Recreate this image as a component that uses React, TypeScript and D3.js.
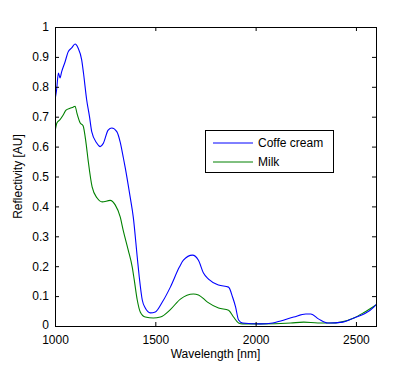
import React, { useEffect, useRef } from 'react';
import * as d3 from 'd3';

// wavelength samples [nm] and reflectivity [AU]
const creamWavelength = [1000, 1008, 1017, 1025, 1033, 1050, 1065, 1083, 1100, 1115, 1133, 1142, 1158, 1172, 1183, 1208, 1225, 1240, 1265, 1283, 1308, 1325, 1340, 1350, 1375, 1390, 1410, 1420, 1435, 1450, 1475, 1500, 1535, 1575, 1620, 1640, 1685, 1715, 1740, 1765, 1815, 1865, 1885, 1900, 1915, 1935, 2025, 2085, 2125, 2190, 2250, 2275, 2315, 2360, 2435, 2490, 2540, 2590, 2600];
const creamValues = [0.756, 0.79, 0.846, 0.83, 0.85, 0.883, 0.916, 0.93, 0.943, 0.93, 0.89, 0.846, 0.756, 0.70, 0.65, 0.612, 0.60, 0.61, 0.655, 0.662, 0.65, 0.615, 0.565, 0.53, 0.43, 0.365, 0.23, 0.164, 0.087, 0.06, 0.044, 0.047, 0.08, 0.13, 0.197, 0.22, 0.237, 0.22, 0.177, 0.157, 0.137, 0.13, 0.097, 0.064, 0.02, 0.01, 0.007, 0.01, 0.017, 0.03, 0.04, 0.04, 0.023, 0.01, 0.013, 0.027, 0.04, 0.064, 0.072];

const milkWavelength = [1000, 1010, 1025, 1040, 1055, 1075, 1090, 1100, 1110, 1125, 1140, 1155, 1165, 1185, 1210, 1235, 1275, 1300, 1325, 1340, 1365, 1385, 1395, 1410, 1425, 1450, 1490, 1525, 1575, 1625, 1690, 1715, 1760, 1815, 1865, 1890, 1915, 1935, 2025, 2175, 2240, 2310, 2375, 2425, 2490, 2540, 2600];
const milkValues = [0.65, 0.68, 0.69, 0.705, 0.722, 0.728, 0.732, 0.735, 0.71, 0.68, 0.67, 0.61, 0.555, 0.465, 0.428, 0.415, 0.42, 0.405, 0.365, 0.32, 0.254, 0.197, 0.154, 0.087, 0.047, 0.03, 0.027, 0.03, 0.055, 0.09, 0.107, 0.104, 0.08, 0.06, 0.053, 0.03, 0.01, 0.007, 0.007, 0.01, 0.013, 0.01, 0.01, 0.013, 0.027, 0.045, 0.07];

const xTicks = [1000, 1500, 2000, 2500];
const yTicks = [0, 0.1, 0.2, 0.3, 0.4, 0.5, 0.6, 0.7, 0.8, 0.9, 1];
const seriesNames = ['Coffe cream', 'Milk'];
const seriesColors = ['#0000ff', '#008000'];

export default function App() {
  const ref = useRef<SVGSVGElement>(null);

  useEffect(() => {
    const svg = d3.select(ref.current);
    svg.selectAll('*').remove();

    const margin = { top: 27, right: 40, bottom: 40, left: 55 };
    const width = 416 - margin.left - margin.right;
    const height = 366 - margin.top - margin.bottom;
    const font = 'Liberation Sans, Arial, sans-serif';
    const fs = 12;

    const x = d3.scaleLinear().domain([1000, 2600]).range([0, width]);
    const y = d3.scaleLinear().domain([0, 1]).range([height, 0]);

    const g = svg.append('g')
      .attr('transform', 'translate(' + margin.left + ',' + margin.top + ')');

    const clip = svg.append('clipPath').attr('id', 'plotclip');
    clip.append('rect').attr('width', width).attr('height', height);

    const line = d3.line<[number, number]>()
      .curve(d3.curveMonotoneX)
      .x(d => x(d[0]))
      .y(d => y(d[1]));

    const series: [number, number][][] = [
      creamWavelength.map((w, i) => [w, creamValues[i]] as [number, number]),
      milkWavelength.map((w, i) => [w, milkValues[i]] as [number, number]),
    ];

    // draw milk first so cream sits on top where they overlap
    [1, 0].forEach(i => {
      g.append('path')
        .datum(series[i])
        .attr('clip-path', 'url(#plotclip)')
        .attr('fill', 'none')
        .attr('stroke', seriesColors[i])
        .attr('stroke-width', 1.1)
        .attr('d', line);
    });

    // axes, ticks inward like matlab
    const tl = 4;
    const bottom = g.append('g').attr('transform', 'translate(0,' + height + ')')
      .call(d3.axisBottom(x).tickValues(xTicks).tickSizeInner(-tl).tickSizeOuter(0).tickPadding(9).tickFormat(d3.format('d')));
    const top = g.append('g')
      .call(d3.axisTop(x).tickValues(xTicks).tickSizeInner(-tl).tickSizeOuter(0).tickFormat(() => ''));
    const left = g.append('g')
      .call(d3.axisLeft(y).tickValues(yTicks).tickSizeInner(-tl).tickSizeOuter(0).tickPadding(6).tickFormat(d3.format('')));
    const right = g.append('g').attr('transform', 'translate(' + width + ',0)')
      .call(d3.axisRight(y).tickValues(yTicks).tickSizeInner(-tl).tickSizeOuter(0).tickFormat(() => ''));

    [bottom, top, left, right].forEach(a => {
      a.select('.domain').remove();
      a.selectAll('line').attr('stroke', '#000');
      a.selectAll('text').attr('font-family', font).attr('font-size', fs).attr('fill', '#000');
    });
    // nudge the "0" label up a touch so it clears the "1000" below it
    left.selectAll('.tick').filter((d: any) => d === 0).select('text').attr('dy', '0.2em');

    g.append('rect')
      .attr('width', width).attr('height', height)
      .attr('fill', 'none').attr('stroke', '#000').attr('stroke-width', 1)
      .attr('shape-rendering', 'crispEdges');

    g.append('text')
      .attr('x', width / 2).attr('y', height + 32)
      .attr('text-anchor', 'middle')
      .attr('font-family', font).attr('font-size', fs)
      .text('Wavelength [nm]');

    g.append('text')
      .attr('transform', 'translate(' + (-33) + ',' + height / 2 + ') rotate(-90)')
      .attr('text-anchor', 'middle')
      .attr('font-family', font).attr('font-size', fs)
      .text('Reflectivity [AU]');

    // legend
    const lg = svg.append('g').attr('transform', 'translate(205,130)');
    lg.append('rect')
      .attr('width', 128).attr('height', 42)
      .attr('fill', '#fff').attr('stroke', '#000')
      .attr('shape-rendering', 'crispEdges');
    seriesNames.forEach((name, i) => {
      const ly = 13 + i * 19;
      lg.append('line')
        .attr('x1', 8).attr('x2', 48).attr('y1', ly).attr('y2', ly)
        .attr('stroke', seriesColors[i]);
      lg.append('text')
        .attr('x', 53).attr('y', ly + 4)
        .attr('font-family', font).attr('font-size', fs)
        .text(name);
    });
  }, []);

  return (
    <svg ref={ref} width={416} height={366}
      style={{ position: 'absolute', left: 0, top: 0, background: '#fff' }} />
  );
}
